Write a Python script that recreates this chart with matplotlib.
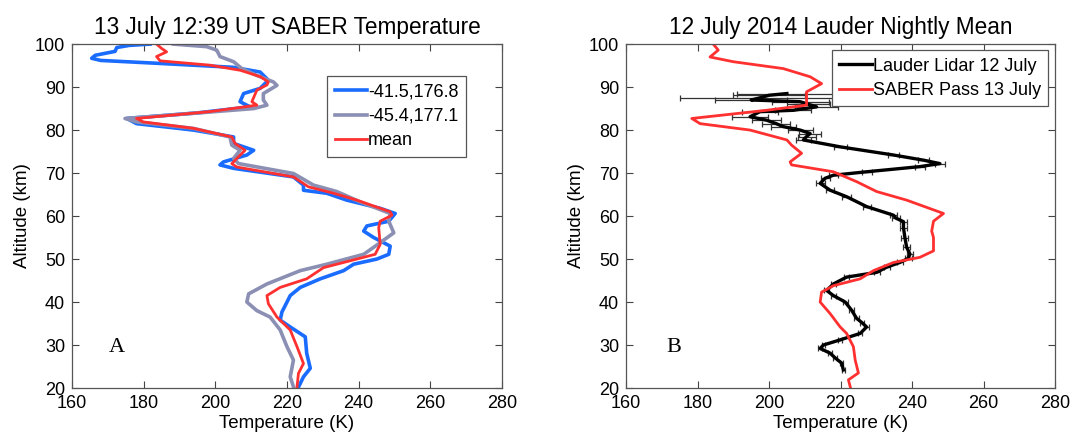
import numpy as np
import matplotlib
matplotlib.use("Agg")
import matplotlib.pyplot as plt

plt.rcParams['font.family'] = ['Liberation Sans', 'DejaVu Sans']

# --- panel A: SABER profiles (altitude km, temperature K) ---
alt_blue = [100, 99.7, 99.2, 98.3, 97.4, 96.7, 96.2, 95.5, 94.6, 93.5, 91.6, 89.7, 88.5,
            86.6, 85.4, 84.0, 82.7, 81.5, 80.0, 78.4, 76.9, 75.3, 74.2, 72.6, 71.9, 71.1,
            69.1, 67.2, 66.0, 65.3, 63.7, 61.8, 60.6, 58.8, 57.7, 56.5, 55.0, 53.0, 51.1,
            50.0, 48.8, 47.3, 45.4, 43.4, 41.5, 40.0, 37.7, 35.8, 34.2, 31.9, 28.1, 24.6,
            22.6, 20.2]
t_blue = [181.8, 176.0, 172.5, 172.0, 166.5, 165.5, 168.0, 184.6, 205.0, 212.5, 214.8, 212.5,
          207.9, 206.9, 209.7, 195.0, 175.3, 178.0, 193.9, 205.1, 205.1, 210.7, 208.8, 202.3,
          201.3, 205.1, 221.8, 224.6, 224.6, 231.1, 236.7, 246.0, 250.2, 248.4, 242.3, 241.4,
          244.2, 248.8, 248.4, 245.1, 238.6, 235.8, 229.3, 223.7, 220.9, 220.0, 218.6, 218.1,
          220.9, 225.1, 225.5, 226.5, 224.6, 223.2]

alt_gray = [100, 99.4, 98.6, 97.1, 95.9, 94.3, 92.7, 91.2, 90.4, 88.5, 87.0, 85.8, 85.0,
            83.9, 82.7, 81.9, 80.4, 78.4, 76.5, 75.3, 73.4, 72.2, 69.9, 67.2, 65.7, 63.3,
            60.6, 58.8, 56.1, 53.8, 51.1, 48.8, 47.3, 44.2, 41.9, 40.0, 38.0, 36.5, 33.5,
            29.6, 26.5, 22.6, 20.3]
t_gray = [188.3, 197.6, 200.4, 201.3, 205.1, 207.4, 211.6, 216.2, 217.2, 213.4, 213.4, 214.4,
          210.7, 193.9, 174.8, 178.0, 193.9, 204.1, 204.6, 206.9, 205.1, 206.5, 221.8, 227.4,
          233.9, 240.4, 248.8, 248.4, 249.8, 246.0, 241.4, 231.1, 223.7, 214.4, 209.3, 208.8,
          211.6, 215.3, 218.1, 220.0, 221.8, 220.9, 221.8]

alt_mean = [100, 99.0, 98.2, 97.1, 96.1, 95.1, 93.9, 92.4, 91.2, 90.5, 89.3, 86.6, 85.8,
            84.3, 82.7, 81.9, 80.4, 78.4, 76.9, 75.3, 73.4, 72.2, 71.4, 69.1, 66.8, 65.3,
            63.7, 61.0, 60.2, 58.8, 57.3, 53.4, 51.1, 50.0, 48.0, 45.4, 43.4, 41.5, 39.6,
            36.5, 33.5, 29.6, 25.7, 23.4, 20.3]
t_mean = [183.6, 185.0, 186.4, 183.6, 184.6, 198.5, 207.0, 212.6, 214.8, 214.4, 211.6, 210.2,
          211.6, 198.5, 178.0, 179.9, 193.9, 204.6, 205.5, 208.3, 206.0, 204.6, 206.0, 221.8,
          226.0, 233.0, 239.5, 248.8, 249.3, 246.0, 245.6, 246.0, 244.6, 239.5, 230.2, 225.5,
          218.1, 214.4, 214.8, 217.2, 220.9, 222.8, 224.6, 223.2, 222.8]

# --- panel B: Lauder lidar and SABER pass ---
alt_lidar = [24.2, 25.8, 27.0, 28.1, 29.2, 30.0, 31.2, 32.7, 34.2, 35.2, 36.2, 38.1, 40.0,
             41.5, 42.7, 44.2, 45.8, 46.9, 48.1, 49.2, 50.2, 51.2, 52.7, 55.0, 57.3, 58.7,
             59.5, 60.2, 62.2, 64.5, 66.0, 67.6, 68.8, 69.5, 70.3, 71.5, 72.2, 73.0, 74.2,
             76.1, 77.7, 78.5, 79.2, 80.0, 80.8, 81.5, 82.3, 83.1, 84.3, 84.6, 85.4, 86.0,
             86.6, 87.0, 87.4, 88.1, 88.5]
t_lidar = [220.8, 220.3, 218.5, 217.1, 214.3, 215.2, 219.9, 225.5, 227.3, 226.0, 224.5, 223.1,
           221.3, 218.0, 216.1, 218.0, 221.7, 230.1, 232.9, 236.6, 239.0, 239.4, 238.5, 238.0,
           237.6, 237.6, 235.5, 234.8, 227.3, 221.7, 217.1, 214.3, 215.7, 218.0, 227.3, 242.2,
           247.8, 243.2, 234.8, 219.9, 209.6, 210.5, 211.5, 208.7, 204.0, 202.0, 199.3, 194.7,
           197.5, 206.8, 213.3, 211.0, 208.7, 195.0, 197.0, 200.0, 205.0]
err_lidar = [0.5, 0.5, 0.5, 0.5, 0.5, 0.5, 0.5, 0.5, 0.6, 0.6, 0.6, 0.6, 0.7,
             0.7, 0.7, 0.7, 0.8, 0.8, 0.8, 0.8, 0.9, 0.9, 0.9, 1.0, 1.0, 1.0,
             1.0, 1.1, 1.1, 1.2, 1.2, 1.3, 1.3, 1.3, 1.4, 1.5, 1.5, 1.5, 1.6,
             1.8, 2.0, 2.5, 3.0, 3.5, 3.5, 4.0, 4.0, 5.0, 5.0, 5.0, 6.0, 6.0,
             8.0, 10.0, 22.0, 10.0, 14.0]

alt_saber = [100, 98.6, 97.0, 95.9, 94.3, 92.4, 90.8, 88.9, 87.0, 85.8, 84.6, 82.7, 81.5,
             80.0, 77.7, 76.5, 74.6, 72.6, 71.9, 70.3, 68.0, 65.7, 63.7, 60.6, 58.8, 56.5,
             55.0, 51.9, 50.4, 49.2, 47.3, 45.4, 43.8, 42.3, 40.0, 37.3, 34.2, 32.7, 29.6,
             26.5, 23.5, 21.9, 20.0]
t_saber = [184.4, 185.8, 183.5, 190.0, 204.0, 211.5, 214.7, 210.5, 210.5, 210.5, 199.3, 178.4,
           180.7, 194.7, 205.0, 206.3, 209.1, 205.9, 206.3, 218.0, 224.5, 230.1, 238.5, 248.8,
           246.0, 245.5, 246.0, 246.0, 242.2, 234.8, 229.2, 225.5, 218.0, 214.7, 214.3, 217.1,
           219.9, 221.7, 223.6, 224.1, 225.0, 222.2, 222.8]

xticks = [160, 180, 200, 220, 240, 260, 280]
yticks = [20, 30, 40, 50, 60, 70, 80, 90, 100]

BLUE = '#1a6cff'
GRAY = '#8b8fb3'
RED = '#ff3030'


def style_axes(ax, title):
    ax.set_xlim(160, 280)
    ax.set_ylim(20, 100)
    ax.set_xticks(xticks)
    ax.set_yticks(yticks)
    ax.tick_params(direction='in', top=True, right=True, length=5, width=0.8,
                   labelsize=13, pad=5, color='#444444')
    for s in ax.spines.values():
        s.set_color('#555555')
        s.set_linewidth(0.9)
    ax.set_xlabel('Temperature (K)', fontsize=13.5, labelpad=2)
    ax.set_ylabel('Altitude (km)', fontsize=13.5, labelpad=3)
    ax.set_title(title, fontsize=16.3, pad=7)


def boxed_legend(ax, handles, loc, anchor):
    leg = ax.legend(handles=handles, loc=loc, bbox_to_anchor=anchor, fontsize=13,
                    handlelength=1.8, handletextpad=0.05, labelspacing=0.42,
                    borderpad=0.4, borderaxespad=0, fancybox=False, framealpha=1)
    leg.get_frame().set_edgecolor('#555555')
    leg.get_frame().set_linewidth(0.9)
    return leg


fig = plt.figure(figsize=(10.84, 4.37), dpi=100)
ax1 = fig.add_axes([0.0664, 0.1121, 0.3967, 0.787])
ax2 = fig.add_axes([0.5775, 0.1121, 0.3958, 0.787])

# panel A
l_blue, = ax1.plot(t_blue, alt_blue, color=BLUE, lw=2.6, label='-41.5,176.8')
l_gray, = ax1.plot(t_gray, alt_gray, color=GRAY, lw=2.6, label='-45.4,177.1')
l_mean, = ax1.plot(t_mean, alt_mean, color=RED, lw=2.0, label='mean')
style_axes(ax1, '13 July 12:39 UT SABER Temperature')
boxed_legend(ax1, [l_blue, l_gray, l_mean], 'upper left', (0.594, 0.907))
ax1.text(172.5, 29.5, 'A', fontsize=16, family='Liberation Serif',
         ha='center', va='center')

# panel B
ax2.errorbar(t_lidar, alt_lidar, xerr=err_lidar, fmt='none', ecolor='#333333',
             elinewidth=0.9, capsize=2.5, capthick=0.9)
l_lidar, = ax2.plot(t_lidar, alt_lidar, color='black', lw=2.4, label='Lauder Lidar 12 July')
l_saber, = ax2.plot(t_saber, alt_saber, color=RED, lw=2.0, label='SABER Pass 13 July')
style_axes(ax2, '12 July 2014 Lauder Nightly Mean')
boxed_legend(ax2, [l_lidar, l_saber], 'upper right', (0.984, 0.982))
ax2.text(173.4, 29.5, 'B', fontsize=16, family='Liberation Serif',
         ha='center', va='center')

fig.savefig('out.png', dpi=100)
